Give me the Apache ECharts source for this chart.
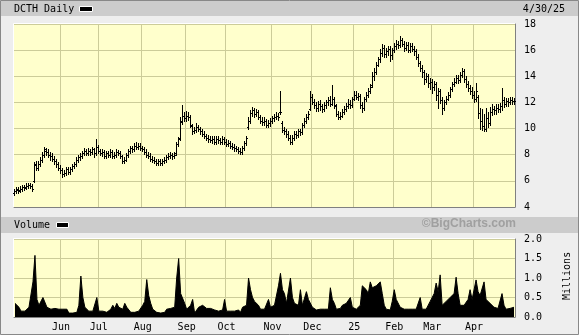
<!DOCTYPE html>
<html>
<head>
<meta charset="utf-8">
<script src="https://cdn.jsdelivr.net/npm/echarts@6/dist/echarts.min.js"></script>
<style>
html,body{margin:0;padding:0;background:#EEEEEE;}
#chart{width:579px;height:335px;}
</style>
</head>
<body>
<div id="chart"></div>
<script>
// ---- calendar (trading days) ----
var holidays = ['2024-05-27','2024-06-19','2024-07-04','2024-09-02','2024-11-28','2024-12-25',
  '2025-01-01','2025-01-09','2025-01-20','2025-02-17','2025-04-18'];
var startDate = '2024-04-30', endDate = '2025-04-30';
var monthLabels = {'2024-06':'Jun','2024-07':'Jul','2024-08':'Aug','2024-09':'Sep','2024-10':'Oct',
  '2024-11':'Nov','2024-12':'Dec','2025-01':'25','2025-02':'Feb','2025-03':'Mar','2025-04':'Apr'};
var priceTicks = {min:4, max:18, interval:2};
var volumeTicks = {min:0, max:2, interval:0.5};

// ---- daily OHLC (USD) ----
var opens = [
5.1,5.2,5.35,5.3,5.4,5.5,5.5,5.6,5.7,5.6,6.0,7.3,7.0,7.3,7.6,8.0,8.4,8.2,8.0,7.9,7.7,7.5,
7.3,7.0,6.8,6.5,6.6,6.9,6.7,6.9,7.1,7.3,7.6,7.8,7.9,8.1,8.3,8.1,8.3,8.2,8.4,
8.1,8.6,8.3,8.1,8.2,7.9,8.1,8.0,8.2,7.9,8.0,8.2,8.1,7.9,7.5,7.6,8.0,8.3,8.5,8.4,8.7,8.6,
8.7,8.5,8.4,8.2,8.0,7.9,7.7,7.6,7.5,7.4,7.5,7.4,7.5,7.6,7.8,7.9,8.0,7.9,8.1,8.8,9.3,10.6,
11.0,10.8,11.0,10.9,10.2,9.8,9.9,10.1,10.0,9.8,9.6,9.4,9.3,9.2,9.1,9.2,9.0,9.2,9.1,9.0,
9.2,9.0,8.8,8.9,8.7,8.6,8.5,8.4,8.3,8.2,8.5,8.9,10.1,10.6,11.2,11.4,11.1,11.3,10.9,10.6,10.5,10.6,10.3,
10.4,10.6,10.8,10.9,11.0,11.3,10.4,9.9,9.8,9.6,9.3,9.0,9.3,9.6,9.5,9.8,9.7,10.3,10.6,10.9,
11.5,12.4,12.0,11.8,11.6,11.9,11.7,11.5,11.8,12.0,12.2,11.9,12.3,11.7,11.1,10.9,11.0,11.3,11.5,11.7,11.9,
11.8,12.3,12.6,12.4,12.5,11.8,11.6,12.3,12.6,12.9,13.3,14.0,14.3,14.9,15.3,15.8,16.2,15.7,15.9,16.1,
15.6,16.0,16.3,16.5,16.4,16.8,16.5,16.2,16.4,16.0,16.3,16.1,15.9,15.5,15.0,14.6,14.3,13.8,14.0,
13.5,13.6,13.2,13.4,12.6,12.9,12.2,11.6,12.0,12.3,12.6,13.0,13.4,13.6,13.9,13.7,14.1,14.4,13.8,13.4,13.1,
12.9,12.6,12.3,12.4,11.2,10.6,10.2,10.0,10.8,10.4,11.3,11.5,11.4,11.6,11.5,11.7,12.2,11.9,12.1,12.0,12.2,
12.1];
var highs = [
5.4,5.5,5.55,5.6,5.65,5.7,5.8,5.85,5.85,5.75,7.45,7.55,7.5,7.8,8.2,8.6,8.55,8.4,8.2,8.1,7.9,7.7,
7.45,7.2,7.0,6.85,7.05,7.05,7.05,7.3,7.45,7.8,8.0,8.1,8.3,8.5,8.45,8.5,8.45,8.6,8.55,
9.2,8.75,8.45,8.4,8.35,8.25,8.3,8.4,8.35,8.2,8.4,8.35,8.25,8.0,7.8,8.15,8.45,8.7,8.7,8.9,8.95,8.9,
8.9,8.7,8.6,8.4,8.2,8.1,7.9,7.8,7.7,7.7,7.65,7.7,7.8,8.0,8.1,8.2,8.15,8.2,8.95,9.35,10.85,11.8,
11.3,11.35,11.25,11.05,10.35,10.15,10.45,10.3,10.15,10.0,9.8,9.6,9.5,9.4,9.4,9.4,9.4,9.4,9.3,9.4,
9.35,9.2,9.1,9.05,8.9,8.8,8.7,8.6,8.5,8.65,9.05,9.45,10.85,11.45,11.65,11.55,11.5,11.45,11.05,10.85,10.85,10.75,10.65,
10.8,11.0,11.15,11.3,11.2,12.85,10.55,10.15,10.0,9.8,9.5,9.5,9.8,9.85,10.0,10.0,10.45,10.8,11.1,11.35,
12.85,12.65,12.25,12.05,12.1,12.15,11.9,12.0,12.2,12.45,12.5,13.37,12.45,11.85,11.35,11.25,11.5,11.7,11.95,12.25,12.15,
12.45,12.85,12.85,12.75,12.65,12.0,12.45,12.8,13.1,13.4,14.3,14.6,15.1,15.5,16.05,16.45,16.4,16.15,16.35,16.3,
16.15,16.55,16.75,16.7,17.05,16.95,16.7,16.65,16.6,16.55,16.55,16.3,16.1,15.7,15.15,14.85,14.5,14.25,14.2,
13.85,13.8,13.65,13.6,13.1,13.05,12.45,12.2,12.5,12.8,13.2,13.6,13.85,14.1,14.1,14.35,14.64,14.55,14.0,13.65,13.35,
13.15,12.85,13.5,12.55,11.6,11.5,11.1,11.6,11.3,11.65,11.85,11.75,11.85,11.85,11.95,13.1,12.45,12.35,12.35,12.45,12.4,
12.35];
var lows = [
4.95,5.05,5.1,5.15,5.25,5.3,5.35,5.45,5.45,5.25,5.9,6.85,6.85,7.1,7.45,7.8,8.0,7.8,7.6,7.5,7.3,7.05,
6.85,6.6,6.3,6.35,6.45,6.5,6.55,6.75,6.95,7.15,7.45,7.6,7.75,7.95,7.95,7.95,8.0,8.05,7.85,
7.95,8.15,7.95,7.9,7.75,7.75,7.85,7.85,7.75,7.75,7.85,7.95,7.75,7.35,7.35,7.5,7.85,8.15,8.2,8.25,8.4,8.45,
8.35,8.25,8.05,7.85,7.75,7.55,7.45,7.35,7.25,7.25,7.25,7.25,7.35,7.45,7.65,7.75,7.7,7.75,8.0,8.65,9.1,10.35,
10.55,10.6,10.65,10.15,9.55,9.65,9.75,9.8,9.6,9.45,9.25,9.1,8.95,8.95,8.9,8.85,8.85,8.9,8.85,8.85,
8.85,8.65,8.65,8.55,8.45,8.3,8.25,8.15,8.05,8.05,8.35,8.75,9.95,10.45,11.0,10.9,10.95,10.75,10.45,10.3,10.3,10.15,10.15,
10.2,10.45,10.55,10.75,10.65,11.1,9.7,9.55,9.35,9.15,8.85,8.85,9.15,9.3,9.35,9.5,9.55,10.15,10.45,10.75,
11.4,11.85,11.55,11.35,11.35,11.45,11.25,11.35,11.6,11.8,11.75,11.8,11.55,10.95,10.7,10.7,10.85,11.15,11.35,11.55,11.55,
11.65,12.15,12.25,12.2,11.6,11.3,11.45,12.1,12.45,12.75,13.15,13.75,14.15,14.75,15.1,15.55,15.5,15.45,15.65,15.2,
15.35,15.85,16.1,16.15,16.25,16.3,15.95,16.0,15.85,15.85,15.9,15.65,15.3,14.8,14.4,13.95,13.4,13.55,13.2,
13.05,12.75,12.95,12.2,11.55,11.95,11.15,11.45,11.85,12.15,12.45,12.85,13.25,13.45,13.45,13.55,13.95,13.55,13.15,12.85,12.65,
12.35,12.05,12.1,10.8,9.95,9.9,9.8,9.85,10.15,10.25,11.05,11.15,11.15,11.25,11.25,11.45,11.65,11.75,11.75,11.85,11.85,
11.85];
var closes = [
5.2,5.3,5.25,5.4,5.5,5.45,5.6,5.7,5.6,5.4,7.2,7.0,7.3,7.6,8.0,8.3,8.2,8.0,7.9,7.7,7.5,7.3,
7.0,6.8,6.5,6.6,6.9,6.7,6.9,7.1,7.3,7.6,7.8,7.9,8.1,8.3,8.1,8.3,8.2,8.4,8.1,
8.6,8.3,8.1,8.2,7.9,8.1,8.0,8.2,7.9,8.0,8.2,8.1,7.9,7.5,7.6,8.0,8.3,8.5,8.4,8.7,8.6,8.7,
8.5,8.4,8.2,8.0,7.9,7.7,7.6,7.5,7.4,7.5,7.4,7.5,7.6,7.8,7.9,8.0,7.9,8.0,8.8,9.2,10.5,11.0,
10.8,11.0,10.9,10.3,9.8,9.9,10.1,10.0,9.8,9.6,9.4,9.3,9.2,9.1,9.2,9.0,9.2,9.1,9.0,9.2,
9.0,8.8,8.9,8.7,8.6,8.5,8.4,8.3,8.2,8.5,8.9,9.3,10.6,11.2,11.4,11.1,11.3,10.9,10.6,10.5,10.6,10.3,10.4,
10.6,10.8,10.9,11.0,10.9,11.3,9.9,9.8,9.6,9.3,9.0,9.3,9.6,9.5,9.8,9.7,10.3,10.6,10.9,11.1,
12.4,12.0,11.8,11.6,11.9,11.7,11.5,11.8,12.0,12.2,11.9,12.3,11.8,11.1,10.9,11.0,11.3,11.5,11.7,11.9,11.8,
12.3,12.6,12.4,12.5,11.8,11.6,12.3,12.6,12.9,13.2,14.0,14.3,14.9,15.3,15.8,16.2,15.7,15.9,16.1,15.6,
16.0,16.3,16.5,16.4,16.8,16.5,16.2,16.4,16.0,16.3,16.1,15.9,15.5,15.0,14.6,14.3,13.8,14.0,13.5,
13.6,13.2,13.4,12.6,12.9,12.2,11.6,12.0,12.3,12.6,13.0,13.4,13.6,13.9,13.7,14.1,14.4,13.8,13.4,13.1,12.9,
12.6,12.3,12.9,11.2,10.6,10.2,10.0,10.8,10.4,11.3,11.5,11.4,11.6,11.5,11.7,12.2,11.9,12.1,12.0,12.2,12.1,
12.1];
// ---- daily volume (millions of shares) ----
var volumes = [
0.35,0.3,0.25,0.15,0.12,0.15,0.2,0.25,0.22,0.9,1.58,0.45,0.3,0.3,0.5,0.45,0.25,0.25,0.2,0.15,0.22,0.2,
0.2,0.25,0.2,0.18,0.2,0.1,0.08,0.1,0.1,0.12,0.3,1.05,0.5,0.25,0.2,0.15,0.18,0.15,0.2,
0.5,0.15,0.12,0.15,0.18,0.12,0.15,0.2,0.3,0.22,0.35,0.25,0.3,0.2,0.35,0.25,0.2,0.12,0.1,0.12,0.1,0.15,
0.2,0.3,0.4,0.96,0.55,0.35,0.2,0.15,0.12,0.15,0.1,0.15,0.12,0.2,0.18,0.22,0.2,0.25,1.0,1.5,0.6,0.65,
0.35,0.2,0.15,0.3,0.45,0.1,0.08,0.25,0.25,0.3,0.25,0.22,0.2,0.22,0.2,0.18,0.2,0.15,0.2,0.18,
0.45,0.15,0.12,0.15,0.1,0.15,0.12,0.18,0.12,0.25,0.28,0.3,1.0,0.7,0.5,0.4,0.35,0.3,0.2,0.18,0.2,0.15,0.45,
0.25,0.2,0.3,0.25,0.8,1.12,0.7,0.6,0.35,0.4,1.0,0.5,0.35,0.3,0.3,0.7,0.3,0.25,0.65,0.45,
0.4,0.25,0.2,0.18,0.22,0.2,0.15,0.2,0.22,0.2,0.75,0.45,0.35,0.2,0.18,0.22,0.3,0.3,0.35,0.3,0.5,
0.25,0.22,0.2,0.25,0.3,0.8,0.75,0.7,0.6,0.9,0.75,0.7,0.8,0.75,0.9,0.6,0.3,0.2,0.15,0.18,
0.4,0.7,0.45,0.4,0.25,0.22,0.2,0.25,0.2,0.22,0.2,0.25,0.2,0.22,0.5,0.2,0.18,0.2,0.15,
0.4,0.45,0.6,0.87,0.65,1.08,0.3,0.28,0.4,0.45,0.5,0.45,0.6,1.02,0.6,0.3,0.35,0.3,0.25,0.45,0.7,
0.45,0.5,0.95,0.65,0.55,0.6,0.9,0.45,0.4,0.35,0.3,0.25,0.25,0.22,0.25,0.6,0.3,0.2,0.18,0.22,0.2,
0.25];

// build trading-day categories
var dates = [];
(function(){
  var s = startDate.split('-'), e = endDate.split('-');
  var t0 = Date.UTC(+s[0], +s[1]-1, +s[2]), t1 = Date.UTC(+e[0], +e[1]-1, +e[2]);
  for (var t = t0; t <= t1; t += 86400000) {
    var d = new Date(t), wd = d.getUTCDay(), iso = d.toISOString().slice(0,10);
    if (wd === 0 || wd === 6 || holidays.indexOf(iso) >= 0) continue;
    dates.push(iso);
  }
})();
function isMonthStart(i){
  if (i <= 0) return false;
  var m = dates[i].slice(0,7);
  return m !== dates[i-1].slice(0,7) && monthLabels[m] !== undefined;
}
var ohlc = dates.map(function(d,i){ return [i, opens[i], highs[i], lows[i], closes[i]]; });

var MONO = '"DejaVu Sans Mono", monospace';
var chart = echarts.init(document.getElementById('chart'), null, {renderer:'canvas'});
var gridLine = {show:true, lineStyle:{color:'#CCCC99', width:1}};
var option = {
  animation:false,
  backgroundColor:'#EEEEEE',
  grid:[
    {left:14, right:64, top:24, height:183, show:true, backgroundColor:'#FFFFCC', borderWidth:0},
    {left:14, right:64, top:239, height:78, show:true, backgroundColor:'#FFFFCC', borderWidth:0}
  ],
  xAxis:[
    {type:'category', gridIndex:0, data:dates, boundaryGap:true,
     axisLine:{show:true, lineStyle:{color:'#808080'}}, axisTick:{show:false}, axisLabel:{show:false},
     splitLine:{show:true, interval:function(i){return isMonthStart(i);}, lineStyle:{color:'#CCCC99'}}},
    {type:'category', gridIndex:1, data:dates, boundaryGap:true,
     axisLine:{show:true, lineStyle:{color:'#808080'}}, axisTick:{show:false},
     axisLabel:{show:true, interval:function(i){return isMonthStart(i);},
       formatter:function(v){return monthLabels[v.slice(0,7)] || '';},
       fontFamily:MONO, fontSize:10, color:'#000', margin:5},
     splitLine:{show:true, interval:function(i){return isMonthStart(i);}, lineStyle:{color:'#CCCC99'}}}
  ],
  yAxis:[
    {type:'value', gridIndex:0, position:'right', min:priceTicks.min, max:priceTicks.max, interval:priceTicks.interval,
     axisLine:{show:true, lineStyle:{color:'#808080'}}, axisTick:{show:false},
     axisLabel:{fontFamily:MONO, fontSize:10, color:'#000', margin:9},
     splitLine:gridLine},
    {type:'value', gridIndex:1, position:'right', min:volumeTicks.min, max:volumeTicks.max, interval:volumeTicks.interval,
     axisLine:{show:true, lineStyle:{color:'#808080'}}, axisTick:{show:false},
     axisLabel:{fontFamily:MONO, fontSize:10, color:'#000', margin:9, formatter:function(v){return v.toFixed(1);}},
     splitLine:gridLine}
  ],
  series:[
    {type:'custom', xAxisIndex:0, yAxisIndex:0, data:ohlc, encode:{x:0, y:[1,2,3,4]},
     renderItem:function(params, api){
       var i = api.value(0);
       var o = api.coord([i, api.value(1)]);
       var h = api.coord([i, api.value(2)]);
       var l = api.coord([i, api.value(3)]);
       var c = api.coord([i, api.value(4)]);
       var x = Math.floor(o[0]);
       var yh = Math.round(h[1]), yl = Math.round(l[1]);
       return {type:'group', children:[
         {type:'rect', shape:{x:x, y:yh, width:1, height:Math.max(1, yl-yh+1)}, style:{fill:'#000'}},
         {type:'rect', shape:{x:x-1, y:Math.round(o[1]), width:1, height:1}, style:{fill:'#000'}},
         {type:'rect', shape:{x:x+1, y:Math.round(c[1]), width:1, height:1}, style:{fill:'#000'}}
       ]};
     }},
    {type:'line', xAxisIndex:1, yAxisIndex:1, data:volumes, symbol:'none', smooth:false,
     lineStyle:{color:'#000', width:1}, areaStyle:{color:'#000', opacity:1}, itemStyle:{color:'#000'}}
  ],
  graphic:[
    {type:'rect', shape:{x:0.5, y:0.5, width:578, height:334}, style:{fill:null, stroke:'#888', lineWidth:1}, silent:true, z:-1},
    {type:'rect', shape:{x:1, y:1, width:577, height:15}, style:{fill:'#CCCCCC'}, silent:true},
    {type:'rect', shape:{x:1, y:217, width:577, height:16}, style:{fill:'#CCCCCC'}, silent:true},
    {type:'text', left:14, top:4, style:{text:'DCTH Daily', font:'10px '+MONO, fill:'#000'}},
    {type:'rect', shape:{x:79.5, y:6.5, width:13, height:5}, style:{fill:'#000', stroke:'#fff', lineWidth:1}},
    {type:'text', right:14, top:4, style:{text:'4/30/25', font:'10px '+MONO, fill:'#000'}},
    {type:'text', left:14, top:220, style:{text:'Volume', font:'10px '+MONO, fill:'#000'}},
    {type:'rect', shape:{x:56.5, y:222.5, width:12, height:5}, style:{fill:'#000', stroke:'#fff', lineWidth:1}},
    {type:'text', right:63, top:218, style:{text:'\u00A9BigCharts.com', font:'bold 12px "Liberation Sans", Arial, sans-serif',
      fill:'#A0A0A0', textShadowColor:'#FFFFFF', textShadowOffsetX:1, textShadowOffsetY:1, textShadowBlur:0}},
    {type:'text', x:562, y:300, rotation:Math.PI/2, style:{text:'Millions', font:'10px '+MONO, fill:'#000'}},
    {type:'line', shape:{x1:13.5, y1:23.5, x2:515.5, y2:23.5}, style:{stroke:'#FFFFFF'}},
    {type:'line', shape:{x1:13.5, y1:23.5, x2:13.5, y2:207.5}, style:{stroke:'#FFFFFF'}},
    {type:'line', shape:{x1:13.5, y1:238.5, x2:515.5, y2:238.5}, style:{stroke:'#FFFFFF'}},
    {type:'line', shape:{x1:13.5, y1:238.5, x2:13.5, y2:317.5}, style:{stroke:'#FFFFFF'}}
  ]
};
chart.setOption(option);
</script>
</body>
</html>
